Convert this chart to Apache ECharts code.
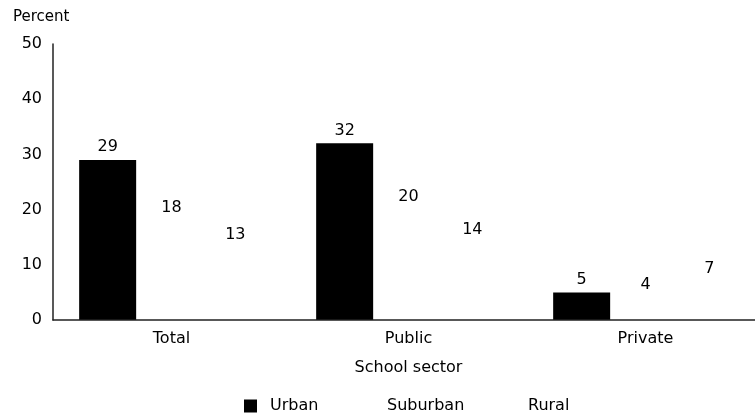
<!DOCTYPE html>
<html>
<head>
    <meta charset="utf-8">
    <title>School sector</title>
    <script type="text/javascript" src="https://cdn.jsdelivr.net/npm/echarts@6/dist/echarts.min.js"></script>
</head>
<body style="margin:0">
<div id="main" style="width:755px;height:417px;"></div>
<script type="text/javascript">
    // 数据
    var sectors = ['Total', 'Public', 'Private'];
    var urban = [29, 32, 5];
    var suburban = [18, 20, 4];
    var rural = [13, 14, 7];
    var yTicks = [0, 10, 20, 30, 40, 50];

    var font = 'DejaVu Sans';
    var labelStyle = {show: true, position: 'top', color: '#000', fontSize: 16, fontFamily: font, distance: 5};
    var legendText = {fontSize: 16, color: '#000', fontFamily: font, padding: [0, 0, 0, 8]};

    // 图例分成三个, 各自定位
    function legendAt(name, left) {
        return {left: left, top: 398, padding: 0, icon: 'rect', itemWidth: 13, itemHeight: 13,
                data: [name], textStyle: legendText};
    }

    var myChart = echarts.init(document.getElementById('main'));
    myChart.setOption({
        animation: false,
        textStyle: {fontFamily: font},
        grid: {left: 53, width: 711, top: 44, bottom: 97, outerBoundsMode: 'none', containLabel: false},
        legend: [legendAt('Urban', 244), legendAt('Suburban', 361), legendAt('Rural', 502)],
        xAxis: {
            type: 'category',
            data: sectors,
            z: 5,
            name: 'School sector',
            nameLocation: 'middle',
            nameGap: 40,
            nameTextStyle: {fontSize: 16, color: '#000', fontFamily: font},
            axisLine: {lineStyle: {color: '#222', width: 1.5}},
            axisTick: {show: false},
            axisLabel: {fontSize: 16, color: '#000', margin: 11, fontFamily: font}
        },
        yAxis: {
            type: 'value',
            min: yTicks[0],
            max: yTicks[yTicks.length - 1],
            interval: 10,
            z: 5,
            name: 'Percent',
            nameLocation: 'end',
            nameGap: 19,
            nameTextStyle: {fontSize: 15, color: '#000', align: 'left', padding: [0, 0, 0, -40], fontFamily: font},
            axisLine: {show: true, lineStyle: {color: '#222', width: 1.5}},
            axisTick: {show: false},
            splitLine: {show: false},
            axisLabel: {fontSize: 16, color: '#000', margin: 11, fontFamily: font}
        },
        series: [
            {name: 'Urban', type: 'bar', data: urban, barWidth: 57, barGap: '12%', barCategoryGap: '22%',
             itemStyle: {color: '#000'}, label: labelStyle},
            {name: 'Suburban', type: 'bar', data: suburban, barWidth: 57,
             itemStyle: {color: '#fff'}, label: labelStyle},
            {name: 'Rural', type: 'bar', data: rural, barWidth: 57,
             itemStyle: {color: '#fff'}, label: labelStyle}
        ]
    });
</script>
</body>
</html>
